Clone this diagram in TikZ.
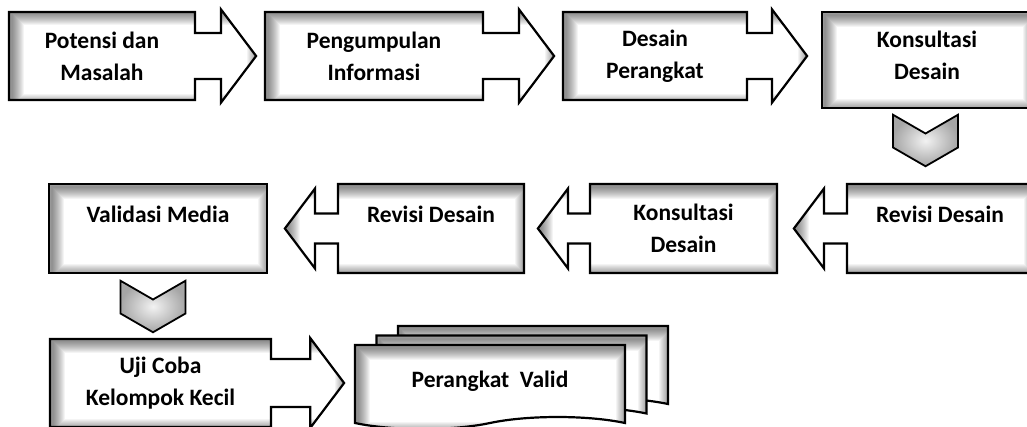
\documentclass[tikz,border=0pt]{standalone}
\usepackage{fontspec}
\setmainfont{Carlito}[BoldFont={Carlito Bold}]
\usetikzlibrary{arrows,shapes.arrows,shapes.symbols,positioning}
\tikzset{
  inshadow/.style = {path picture={
      \foreach \w in {2,4,...,24}
        \draw[line width=\w pt, black, opacity=0.045]
          ([shift={(3pt,-3pt)}]path picture bounding box.south west) rectangle
          ([shift={(3pt,-3pt)}]path picture bounding box.north east);}},
  basic/.style  = {draw, line width=2.2pt, fill=white, inner sep=0pt, align=center,
                   font=\fontsize{23.5}{32}\selectfont\bfseries, inshadow},
  box/.style    = {basic, rectangle},
  fwd/.style    = {basic, arrow box, arrow box arrows={east:#1 from border},
                   arrow box tip angle=106},
  back/.style   = {basic, arrow box, arrow box arrows={west:#1 from border},
                   arrow box tip angle=106},
  oneline/.style = {text depth=28pt},
  chevron/.style = {draw, line width=1.8pt, signal, signal from=north, signal to=south,
                   signal pointer angle=120, inner sep=0pt, minimum width=65pt,
                   minimum height=14pt, shading=radial, inner color=gray!10,
                   outer color=gray!70},
  doc/.style    = {basic, tape, tape bend top=none, tape bend bottom=in and out,
                   tape bend height=12pt, minimum width=270pt, minimum height=84pt}
}
\begin{document}
\begin{tikzpicture}[x=1pt, y=-1pt]
\useasboundingbox (0,0) rectangle (1027,426);

% baris pertama
\node[fwd=60pt, minimum width=186pt, minimum height=88pt, arrow box shaft width=46pt,
      arrow box head extend=23.5pt] (potensi) at (102,56) {Potensi dan\\Masalah};
\node[fwd=70pt, minimum width=218pt, minimum height=88pt, arrow box shaft width=46pt,
      arrow box head extend=23.5pt, right of=potensi, node distance=272pt] (info) {Pengumpulan\\Informasi};
\node[fwd=59pt, minimum width=184pt, minimum height=88pt, arrow box shaft width=46pt,
      arrow box head extend=23.5pt, right of=info, node distance=281pt] (desain) {Desain\\Perangkat};
\node[box, text depth=10pt, minimum width=210pt, minimum height=96pt, right of=desain,
      node distance=272pt, yshift=-4pt] (konsul1) {Konsultasi\\Desain};
\node[chevron, below of=konsul1, node distance=80.5pt, xshift=-1.5pt] (down1) {};

% baris kedua
\begin{scope}[every node/.append style={minimum height=89pt, arrow box shaft width=30pt,
              arrow box head extend=25pt}]
\node[back=52pt, oneline, minimum width=186pt] (revisi1) at (940,228.5) {Revisi Desain};
\node[back=51pt, minimum width=187pt, left of=revisi1, node distance=256.5pt] (konsul2) {Konsultasi\\Desain};
\node[back=52pt, oneline, minimum width=186pt, left of=konsul2, node distance=252.5pt] (revisi2) {Revisi Desain};
\node[box, oneline, minimum width=218pt, left of=revisi2, node distance=273pt] (validasi) {Validasi Media};
\end{scope}
\node[chevron, below of=validasi, node distance=78pt, xshift=-5pt] (down2) {};

% baris ketiga
\node[fwd=72pt, minimum width=221pt, minimum height=88pt, arrow box shaft width=48pt,
      arrow box head extend=21pt, below of=validasi, node distance=154.5pt, xshift=2.5pt] (ujicoba) {Uji Coba\\Kelompok Kecil};
\node[doc] (doc3) at (533,362) {};
\node[doc] (doc2) at (511.5,371.5) {};
\node[doc] (valid) at (490,381) {Perangkat\ \ Valid};
\end{tikzpicture}
\end{document}
